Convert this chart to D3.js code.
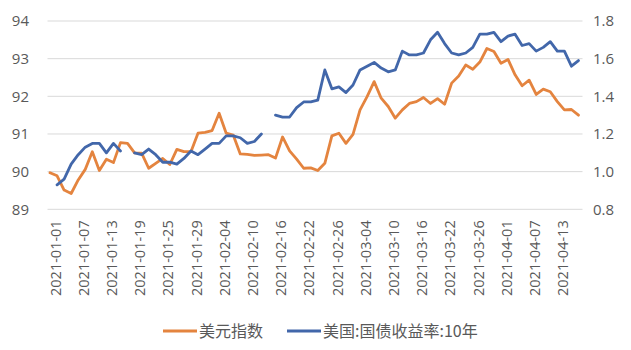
<!DOCTYPE html>
<html>
<head>
<meta charset="utf-8">
<script src="https://cdn.jsdelivr.net/npm/d3@7/dist/d3.min.js"></script>
<style>
  html, body { margin: 0; padding: 0; background: #fff; }
  svg { display: block; }
  text { font-family: "Open Sans", "Noto Sans CJK SC", sans-serif; fill: #595959; }
</style>
</head>
<body>
<svg id="chart" width="631" height="350"></svg>
<script>
// Trading days, 2021-01-01 .. 2021-04-16
const categories = [
  "2021-01-01","2021-01-04","2021-01-05","2021-01-06","2021-01-07","2021-01-08",
  "2021-01-11","2021-01-12","2021-01-13","2021-01-14","2021-01-15",
  "2021-01-18","2021-01-19","2021-01-20","2021-01-21","2021-01-22",
  "2021-01-25","2021-01-26","2021-01-27","2021-01-28","2021-01-29",
  "2021-02-01","2021-02-02","2021-02-03","2021-02-04","2021-02-05",
  "2021-02-08","2021-02-09","2021-02-10","2021-02-11","2021-02-12",
  "2021-02-15","2021-02-16","2021-02-17","2021-02-18","2021-02-19",
  "2021-02-22","2021-02-23","2021-02-24","2021-02-25","2021-02-26",
  "2021-03-01","2021-03-02","2021-03-03","2021-03-04","2021-03-05",
  "2021-03-08","2021-03-09","2021-03-10","2021-03-11","2021-03-12",
  "2021-03-15","2021-03-16","2021-03-17","2021-03-18","2021-03-19",
  "2021-03-22","2021-03-23","2021-03-24","2021-03-25","2021-03-26",
  "2021-03-29","2021-03-30","2021-03-31","2021-04-01","2021-04-02",
  "2021-04-05","2021-04-06","2021-04-07","2021-04-08","2021-04-09",
  "2021-04-12","2021-04-13","2021-04-14","2021-04-15","2021-04-16"
];

// 美元指数 (left axis)
const dollarIndex = [
  89.97, 89.89, 89.51, 89.42, 89.78, 90.06,
  90.53, 90.03, 90.33, 90.24, 90.77,
  90.75, 90.50, 90.49, 90.09, 90.22,
  90.35, 90.19, 90.59, 90.53, 90.53,
  91.02, 91.04, 91.09, 91.55, 91.02,
  90.97, 90.47, 90.46, 90.43, 90.44,
  90.45, 90.36, 90.92, 90.55, 90.33,
  90.09, 90.10, 90.03, 90.22, 90.95,
  91.02, 90.75, 90.99, 91.64, 91.99,
  92.39, 91.95, 91.73, 91.42, 91.64,
  91.81, 91.86, 91.97, 91.81, 91.94,
  91.79, 92.35, 92.54, 92.83, 92.72,
  92.91, 93.27, 93.19, 92.88, 92.98,
  92.57, 92.28, 92.43, 92.05, 92.19,
  92.12, 91.86, 91.64, 91.65, 91.50
];

// 美国:国债收益率:10年 (right axis); null = market closed
const treasury10y = [
  null, 0.93, 0.96, 1.04, 1.09, 1.13,
  1.15, 1.15, 1.10, 1.15, 1.11,
  null, 1.10, 1.09, 1.12, 1.09,
  1.05, 1.05, 1.04, 1.07, 1.11,
  1.09, 1.12, 1.15, 1.15, 1.19,
  1.19, 1.18, 1.15, 1.16, 1.20,
  null, 1.30, 1.29, 1.29, 1.34,
  1.37, 1.37, 1.38, 1.54, 1.44,
  1.45, 1.42, 1.46, 1.54, 1.56,
  1.58, 1.55, 1.53, 1.54, 1.64,
  1.62, 1.62, 1.63, 1.70, 1.74,
  1.68, 1.63, 1.62, 1.63, 1.66,
  1.73, 1.73, 1.74, 1.69, 1.72,
  1.73, 1.67, 1.68, 1.64, 1.66,
  1.69, 1.64, 1.64, 1.56, 1.59
];

const leftTicks = [89, 90, 91, 92, 93, 94];
const rightTicks = [0.8, 1.0, 1.2, 1.4, 1.6, 1.8];
const seriesNames = ["美元指数", "美国:国债收益率:10年"];
const colors = ["#E4843F", "#4267AA"];

const svg = d3.select("#chart");
const plot = { left: 47.5, right: 582.5, top: 21, bottom: 209.3 };

const x = d3.scaleBand().domain(categories).range([46.5, 582]);
const cx = d => x(d) + x.bandwidth() / 2;
const yL = d3.scaleLinear().domain([89, 94]).range([plot.bottom, plot.top]);
const yR = d3.scaleLinear().domain([0.8, 1.8]).range([plot.bottom, plot.top]);

// horizontal gridlines
svg.append("g").selectAll("line").data(leftTicks).join("line")
  .attr("x1", plot.left).attr("x2", plot.right)
  .attr("y1", d => yL(d)).attr("y2", d => yL(d))
  .attr("stroke", "#d9d9d9").attr("stroke-width", 1);

// left axis labels
const axisL = d3.axisLeft(yL).tickValues(leftTicks).tickSize(0).tickPadding(0).tickFormat(d3.format("d"));
const gL = svg.append("g").attr("transform", "translate(29,0)").call(axisL);
gL.select(".domain").remove();
gL.selectAll("text").attr("font-size", 15).style("font-family", null).attr("fill", "#595959");

// right axis labels
const axisR = d3.axisRight(yR).tickValues(rightTicks).tickSize(0).tickPadding(0).tickFormat(d3.format(".1f"));
const gR = svg.append("g").attr("transform", "translate(593,0)").call(axisR);
gR.select(".domain").remove();
gR.selectAll("text").attr("font-size", 15).style("font-family", null).attr("fill", "#595959");

// category labels, every fourth day, rotated
const axisX = d3.axisBottom(x).tickValues(categories.filter((d, i) => i % 4 === 0)).tickSize(0).tickPadding(0);
const gX = svg.append("g").attr("transform", `translate(5.5,${plot.bottom})`).call(axisX);
gX.select(".domain").remove();
gX.selectAll("text")
  .attr("font-size", 14.5).style("font-family", null).attr("fill", "#595959")
  .attr("transform", "rotate(-90)")
  .attr("text-anchor", "end")
  .attr("x", -11).attr("y", 0).attr("dy", "0.36em");

// series lines
const lineL = d3.line().defined(d => d != null)
  .x((d, i) => cx(categories[i])).y(d => yL(d));
const lineR = d3.line().defined(d => d != null)
  .x((d, i) => cx(categories[i])).y(d => yR(d));

svg.append("path").datum(dollarIndex)
  .attr("d", lineL).attr("fill", "none")
  .attr("stroke", colors[0]).attr("stroke-width", 2.8)
  .attr("stroke-linejoin", "round").attr("stroke-linecap", "round");

svg.append("path").datum(treasury10y)
  .attr("d", lineR).attr("fill", "none")
  .attr("stroke", colors[1]).attr("stroke-width", 2.8)
  .attr("stroke-linejoin", "round").attr("stroke-linecap", "round");

// legend
const legendItems = [
  { name: seriesNames[0], color: colors[0], x: 163 },
  { name: seriesNames[1], color: colors[1], x: 287 }
];
const lg = svg.append("g").attr("transform", "translate(0,331)");
legendItems.forEach(item => {
  lg.append("line").attr("x1", item.x).attr("x2", item.x + 34)
    .attr("y1", 0).attr("y2", 0)
    .attr("stroke", item.color).attr("stroke-width", 3);
  lg.append("text").attr("x", item.x + 36).attr("y", 0).attr("dy", "0.35em")
    .attr("font-size", 16)
    .style("font-family", "'Noto Sans CJK SC', sans-serif")
    .text(item.name);
});
</script>
</body>
</html>
